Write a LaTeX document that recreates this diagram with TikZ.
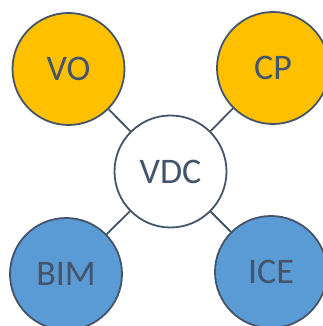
\documentclass[tikz,border=0pt]{standalone}
\usepackage{fontspec}
\setmainfont{Carlito}
\definecolor{slategrey}{HTML}{44546A}
\definecolor{gold}{HTML}{FFC000}
\definecolor{skyblue}{HTML}{5B9BD5}
\usetikzlibrary{positioning}

\begin{document}
\begin{tikzpicture}[on grid,
    party/.style={circle, draw=slategrey, line width=1.8pt, minimum size=112pt, inner sep=0pt,
                  text=slategrey, font=\fontsize{36}{40}\selectfont}]
    \useasboundingbox (-170.5pt,-154.5pt) rectangle (152.5pt,171.5pt);

    % Central node
    \node[party, fill=white] (vdc) {VDC};

    % Upper partners
    \node[party, fill=gold, above left=102.5pt and 102pt of vdc] (vo) {VO};
    \node[party, fill=gold, above right=103.5pt and 102.5pt of vdc] (cp) {CP};

    % Lower partners
    \node[party, fill=skyblue, below left=102.5pt and 104.5pt of vdc] (bim) {BIM};
    \node[party, fill=skyblue, below right=100.5pt and 100.5pt of vdc] (ice) {ICE};

    % Links
    \draw[line width=1.8pt, color=slategrey] (vdc) -- (vo);
    \draw[line width=1.8pt, color=slategrey] (vdc) -- (cp);
    \draw[line width=1.8pt, color=slategrey] (vdc) -- (bim);
    \draw[line width=1.8pt, color=slategrey] (vdc) -- (ice);
\end{tikzpicture}
\end{document}
